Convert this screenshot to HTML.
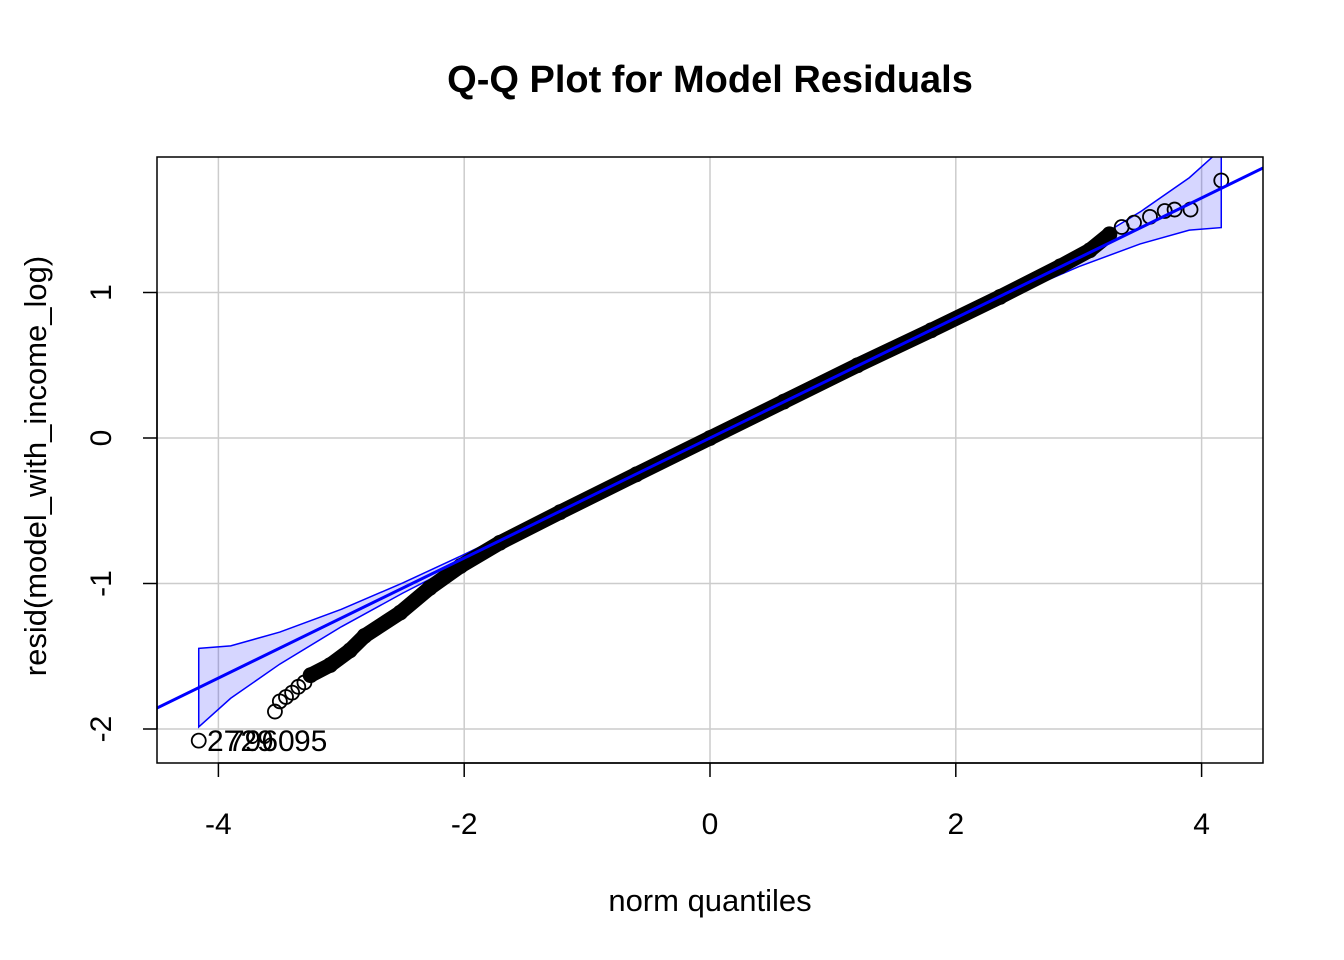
<!DOCTYPE html>
<html><head><meta charset="utf-8"><style>
body{margin:0;background:#fff;}
svg{display:block;font-family:"Liberation Sans",Arial,sans-serif;}
</style></head><body>
<svg id="c" width="1344" height="960"></svg>
<script>
const theoQ=[-4.16,-3.54,-3.5,-3.45,-3.4,-3.35,-3.3,-3.25,-3.09,-2.93,-2.81,-2.52,-2.28,-2.03,-1.71,-1.22,-0.6,0,0.6,1.2,1.8,2.36,2.85,3.09,3.25,3.35,3.45,3.58,3.7,3.78,3.91,4.16];
const sampQ=[-2.08,-1.88,-1.81,-1.78,-1.75,-1.71,-1.68,-1.63,-1.56,-1.46,-1.36,-1.2,-1.03,-0.88,-0.72,-0.51,-0.25,0.0,0.25,0.5,0.74,0.97,1.18,1.29,1.4,1.45,1.48,1.52,1.56,1.57,1.57,1.77];
const bandX=[-4.16,-3.9,-3.5,-3,-2.5,-2,-1,0,1,2,2.5,3,3.5,3.9,4.16];
const bandW=[0.27,0.18,0.11,0.06,0.035,0.025,0.018,0.015,0.018,0.025,0.035,0.06,0.11,0.18,0.27];
const xTicks=[-4,-2,0,2,4];
const yTicks=[-2,-1,0,1];
const lineSlope=0.4125, lineIcpt=0.0;

const NS="http://www.w3.org/2000/svg";
const svg=document.getElementById('c');
const L=157,R=1263,T=157,B=763;
const sx=v=>710+v*122.9;
const sy=v=>438-v*145.5;
function el(t,a,p){const e=document.createElementNS(NS,t);for(const k in a)e.setAttribute(k,a[k]);(p||svg).appendChild(e);return e;}
const defs=el('defs',{});const cp=el('clipPath',{id:'clip'},defs);el('rect',{x:L,y:T,width:R-L,height:B-T},cp);
xTicks.forEach(v=>{const g=el('line',{x1:sx(v),x2:sx(v),y1:T,y2:B,stroke:'#cccccc','stroke-width':1.5});

});
yTicks.forEach(v=>{const g=el('line',{x1:L,x2:R,y1:sy(v),y2:sy(v),stroke:'#cccccc','stroke-width':1.5});

});
const pg=el('g',{'clip-path':'url(#clip)'});
const up=bandX.map((x,i)=>sx(x)+','+sy(lineIcpt+lineSlope*x+bandW[i]));
const lo=bandX.map((x,i)=>sx(x)+','+sy(lineIcpt+lineSlope*x-bandW[i])).reverse();
const band=el('polygon',{points:up.concat(lo).join(' '),fill:'rgba(0,0,255,0.16)',stroke:'#0000ff','stroke-width':1.5},pg);


const dense=el('polyline',{points:theoQ.slice(7,25).map((x,i)=>sx(x)+','+sy(sampQ[i+7])).join(' '),fill:'none',stroke:'#000','stroke-width':15,'stroke-linejoin':'round','stroke-linecap':'round'},pg);


theoQ.forEach((x,i)=>{const c=el('circle',{cx:sx(x),cy:sy(sampQ[i]),r:7,fill:'none',stroke:'#000','stroke-width':1.8},pg);

});
const rl=el('line',{x1:L,y1:sy(lineIcpt+lineSlope*(-4.5)),x2:R,y2:sy(lineIcpt+lineSlope*4.5),stroke:'#0000ff','stroke-width':3},pg);


[[207,'2729'],[228,'7960'],[294,'95']].forEach(([x,t])=>{const tx=el('text',{x:x,y:751,'font-size':30},svg);tx.textContent=t;

});
const fr=el('rect',{x:L,y:T,width:R-L,height:B-T,fill:'none',stroke:'#000','stroke-width':1.5});


el('line',{x1:sx(-4),x2:sx(4),y1:B,y2:B,stroke:'#000','stroke-width':1.5});
xTicks.forEach(v=>{el('line',{x1:sx(v),x2:sx(v),y1:B,y2:B+14,stroke:'#000','stroke-width':1.5});
const t=el('text',{x:sx(v),y:834,'font-size':30,'text-anchor':'middle'});t.textContent=v;

});
el('line',{x1:L,x2:L,y1:sy(-2),y2:sy(1),stroke:'#000','stroke-width':1.5});
yTicks.forEach(v=>{el('line',{x1:L-14,x2:L,y1:sy(v),y2:sy(v),stroke:'#000','stroke-width':1.5});
const t=el('text',{x:0,y:0,'font-size':30,'text-anchor':'middle',transform:`translate(111,${sy(v)}) rotate(-90)`});t.textContent=v;

});
</script>
<svg style="position:absolute;left:0;top:0" width="1344" height="960">
<text x="710" y="92" font-size="38" font-weight="bold" text-anchor="middle" font-family="Liberation Sans, sans-serif">Q-Q Plot for Model Residuals</text>
<text x="710" y="911" font-size="31" text-anchor="middle" font-family="Liberation Sans, sans-serif">norm quantiles</text>
<text transform="translate(46,466) rotate(-90)" font-size="31" text-anchor="middle" font-family="Liberation Sans, sans-serif">resid(model_with_income_log)</text>
</svg>
</body></html>
